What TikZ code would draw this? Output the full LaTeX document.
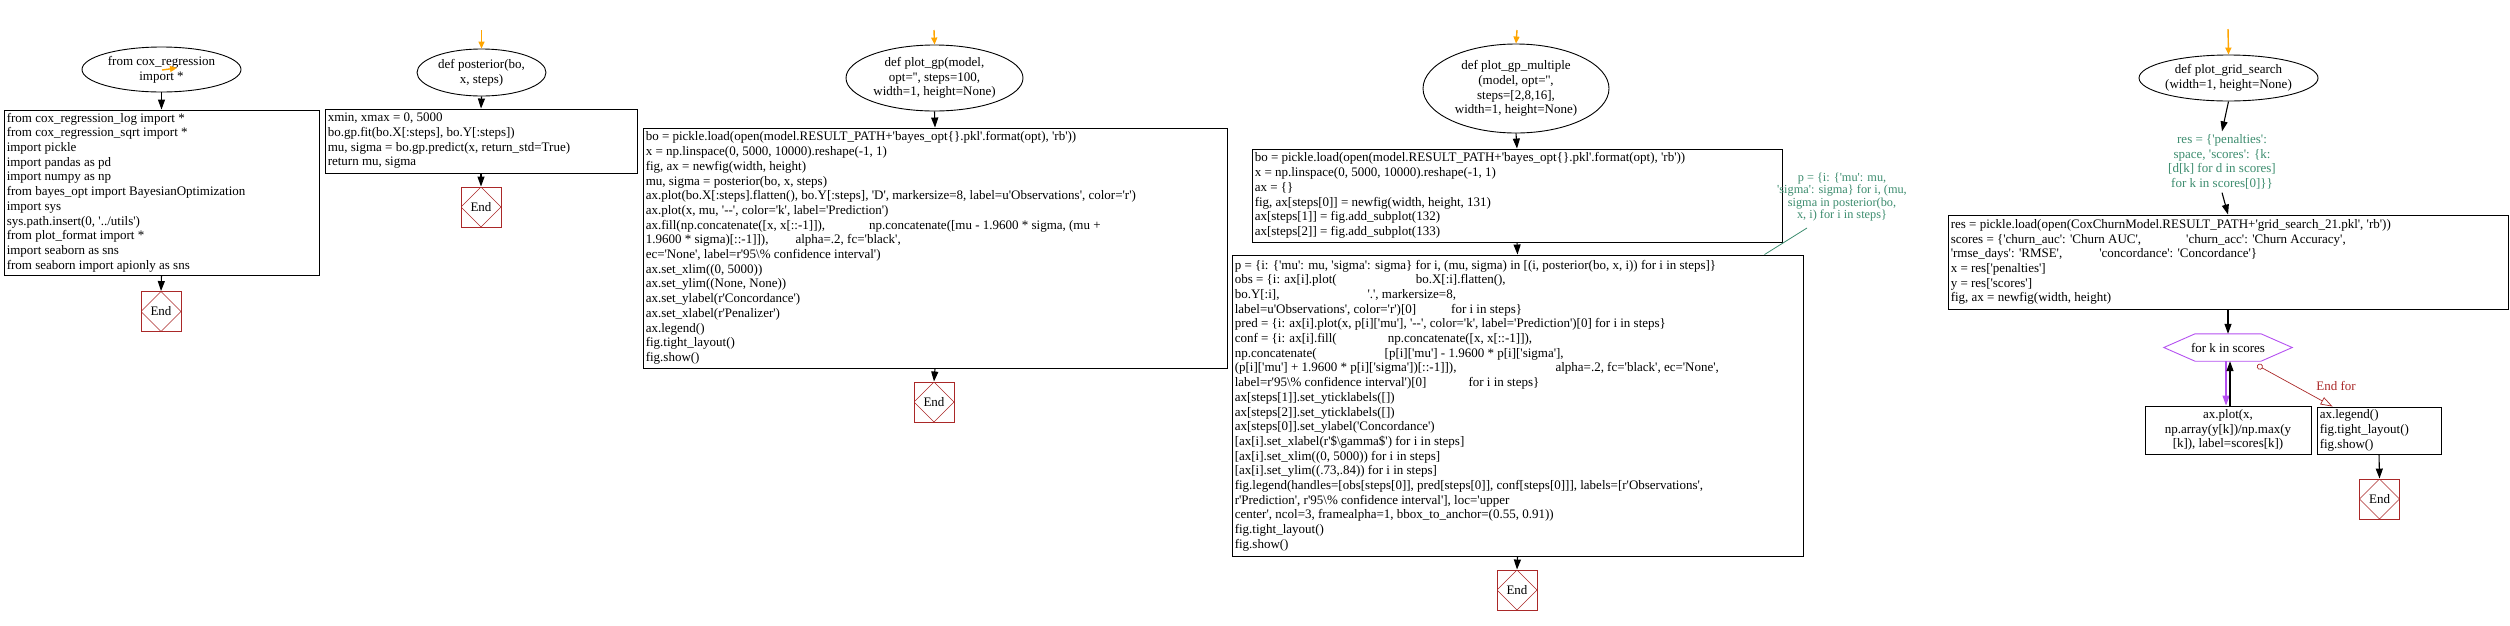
\documentclass[tikz,border=0pt]{standalone}
\usepackage{fontspec}
\setmainfont{Liberation Serif}[Ligatures=TeXOff]
\usetikzlibrary{shapes.geometric,arrows.meta}
\definecolor{endred}{RGB}{170,40,40}
\definecolor{startor}{RGB}{255,165,0}
\definecolor{loopc}{RGB}{180,80,240}
\definecolor{cmtg}{RGB}{60,140,110}
\newcommand\gap[1]{\hspace*{#1pt}}
\begin{document}
\begin{tikzpicture}[x=1pt,y=-1pt,
  every node/.style={font=\fontsize{13}{14.7}\selectfont},
  frame/.style={draw, line width=0.9pt, inner sep=0pt},
  code/.style={anchor=west, align=left, inner sep=0pt},
  func/.style={ellipse, draw, line width=0.9pt, inner sep=0pt, align=center},
  endbox/.style={draw=endred, line width=0.9pt, minimum width=40pt, minimum height=40pt, inner sep=0pt,
    path picture={\draw[endred,line width=0.6pt] (path picture bounding box.west) -- (path picture bounding box.north) -- (path picture bounding box.east) -- (path picture bounding box.south) -- cycle;}},
  flow/.style={line width=1.1pt, -{Triangle[length=10pt,width=7pt]}},
  startarr/.style={draw=startor, line width=1.4pt, -{Triangle[length=7pt,width=6pt]}},
]
\useasboundingbox (0,0) rectangle (2510,625);

% ---------- column 1
\node[func, minimum width=159pt, minimum height=45pt] (e1) at (161.5,69.5) {from cox\_regression\\import *};
\coordinate (s1a) at (162,70);
\coordinate (s1b) at (177,68);
\draw[startarr] (s1a) -- (s1b);
\node[frame, minimum width=315pt, minimum height=165pt] (b1) at (161.5,192.5) {};
\node[code] (t1) at ([xshift=3pt]b1.west) {from cox\_regression\_log import *\\
from cox\_regression\_sqrt import *\\
import pickle\\
import pandas as pd\\
import numpy as np\\
from bayes\_opt import BayesianOptimization\\
import sys\\
sys.path.insert(0, '../utils')\\
from plot\_format import *\\
import seaborn as sns\\
from seaborn import apionly as sns};
\node[endbox] (end1) at (161,311.5) {End};
\draw[flow] (e1.south) -- (b1.north);
\draw[flow] (b1.south) -- (end1.north);

% ---------- column 2
\coordinate (s2) at (481.5,30);
\node[func, minimum width=129pt, minimum height=47pt] (e2) at (481.5,72.5) {def posterior(bo,\\x, steps)};
\node[frame, minimum width=312pt, minimum height=64pt] (b2) at (481,141) {};
\node[code] (t2) at ([xshift=3pt]b2.west) {xmin, xmax = 0, 5000\\
bo.gp.fit(bo.X[:steps], bo.Y[:steps])\\
mu, sigma = bo.gp.predict(x, return\_std=True)\\
return mu, sigma};
\node[endbox] (end2) at (481,207) {End};
\draw[startarr] (s2) -- (e2.north);
\draw[flow] (e2.south) -- (b2.north);
\draw[flow] (b2.south) -- (end2.north);

% ---------- column 3
\coordinate (s3) at (934,30);
\node[func, minimum width=177pt, minimum height=66pt] (e3) at (934.5,78) {def plot\_gp(model,\\opt='', steps=100,\\width=1, height=None)};
\node[frame, minimum width=584pt, minimum height=240pt] (b3) at (935,248) {};
\node[code] (t3) at ([xshift=3pt]b3.west) {bo = pickle.load(open(model.RESULT\_PATH+'bayes\_opt\{\}.pkl'.format(opt), 'rb'))\\
x = np.linspace(0, 5000, 10000).reshape(-1, 1)\\
fig, ax = newfig(width, height)\\
mu, sigma = posterior(bo, x, steps)\\
ax.plot(bo.X[:steps].flatten(), bo.Y[:steps], 'D', markersize=8, label=u'Observations', color='r')\\
ax.plot(x, mu, '--', color='k', label='Prediction')\\
ax.fill(np.concatenate([x, x[::-1]]),\gap{44}np.concatenate([mu - 1.9600 * sigma, (mu +\\
1.9600 * sigma)[::-1]]),\gap{27}alpha=.2, fc='black',\\
ec='None', label=r'95\textbackslash\% confidence interval')\\
ax.set\_xlim((0, 5000))\\
ax.set\_ylim((None, None))\\
ax.set\_ylabel(r'Concordance')\\
ax.set\_xlabel(r'Penalizer')\\
ax.legend()\\
fig.tight\_layout()\\
fig.show()};
\node[endbox] (end3) at (934,402) {End};
\draw[startarr] (s3) -- (e3.north);
\draw[flow] (e3.south) -- (b3.north);
\draw[flow] (b3.south) -- (end3.north);

% ---------- column 4
\coordinate (s4) at (1517,30);
\node[func, minimum width=186pt, minimum height=89pt] (e4) at (1516,88.5) {def plot\_gp\_multiple\\(model, opt='',\\steps=[2,8,16],\\width=1, height=None)};
\node[frame, minimum width=530pt, minimum height=93pt] (b4a) at (1517,195.5) {};
\node[code] (t4a) at ([xshift=3pt]b4a.west) {bo = pickle.load(open(model.RESULT\_PATH+'bayes\_opt\{\}.pkl'.format(opt), 'rb'))\\
x = np.linspace(0, 5000, 10000).reshape(-1, 1)\\
ax = \{\}\\
fig, ax[steps[0]] = newfig(width, height, 131)\\
ax[steps[1]] = fig.add\_subplot(132)\\
ax[steps[2]] = fig.add\_subplot(133)};
\node[frame, minimum width=571pt, minimum height=301pt] (b4b) at (1517.5,405.5) {};
\node[code] (t4b) at ([xshift=3pt]b4b.west) {p = \{i: \{'mu': mu, 'sigma': sigma\} for i, (mu, sigma) in [(i, posterior(bo, x, i)) for i in steps]\}\\
obs = \{i: ax[i].plot(\gap{79}bo.X[:i].flatten(),\\
bo.Y[:i],\gap{88}'.', markersize=8,\\
label=u'Observations', color='r')[0]\gap{35}for i in steps\}\\
pred = \{i: ax[i].plot(x, p[i]['mu'], '--', color='k', label='Prediction')[0] for i in steps\}\\
conf = \{i: ax[i].fill(\gap{51}np.concatenate([x, x[::-1]]),\\
np.concatenate(\gap{68}[p[i]['mu'] - 1.9600 * p[i]['sigma'],\\
(p[i]['mu'] + 1.9600 * p[i]['sigma'])[::-1]]),\gap{99}alpha=.2, fc='black', ec='None',\\
label=r'95\textbackslash\% confidence interval')[0]\gap{42}for i in steps\}\\
ax[steps[1]].set\_yticklabels([])\\
ax[steps[2]].set\_yticklabels([])\\
ax[steps[0]].set\_ylabel('Concordance')\\\relax
[ax[i].set\_xlabel(r'\$\textbackslash gamma\$') for i in steps]\\\relax
[ax[i].set\_xlim((0, 5000)) for i in steps]\\\relax
[ax[i].set\_ylim((.73,.84)) for i in steps]\\
fig.legend(handles=[obs[steps[0]], pred[steps[0]], conf[steps[0]]], labels=[r'Observations',\\
r'Prediction', r'95\textbackslash\% confidence interval'], loc='upper\\
center', ncol=3, framealpha=1, bbox\_to\_anchor=(0.55, 0.91))\\
fig.tight\_layout()\\
fig.show()};
\node[endbox] (end4) at (1517,590) {End};
\node[cmtg, align=center, inner sep=0pt, font=\fontsize{12.3}{12.4}\selectfont] (cmt4) at (1842,197) {p = \{i: \{'mu': mu,\\'sigma': sigma\} for i, (mu,\\sigma in posterior(bo,\\x, i) for i in steps\}};
\coordinate (cmtend) at (1807,228);
\draw[startarr] (s4) -- (e4.north);
\draw[flow] (e4.south) -- (b4a.north);
\draw[flow] (b4a.south) -- (b4b.north);
\draw[flow] (b4b.south) -- (end4.north);
\draw[cmtg, line width=0.8pt] ([xshift=-39pt]b4b.north east) -- (cmtend);

% ---------- column 5
\coordinate (s5) at (2228,29);
\node[func, minimum width=177pt, minimum height=46pt] (e5) at (2228.5,78) {def plot\_grid\_search\\(width=1, height=None)};
\node[cmtg, align=center, inner sep=3pt] (g5) at (2222,162) {res = \{'penalties':\\space, 'scores': \{k:\\\relax [d[k] for d in scores]\\for k in scores[0]\}\}};
\node[frame, minimum width=560pt, minimum height=94pt] (b5) at (2228,262) {};
\node[code] (t5) at ([xshift=3pt]b5.west) {res = pickle.load(open(CoxChurnModel.RESULT\_PATH+'grid\_search\_21.pkl', 'rb'))\\
scores = \{'churn\_auc': 'Churn AUC',\gap{45}'churn\_acc': 'Churn Accuracy',\\
'rmse\_days': 'RMSE',\gap{37}'concordance': 'Concordance'\}\\
x = res['penalties']\\
y = res['scores']\\
fig, ax = newfig(width, height)};
\node[minimum width=128pt, minimum height=27pt, inner sep=0pt] (hex) at (2228,347.5) {for k in scores};
\draw[loopc, line width=0.9pt] (hex.west) -- ([xshift=-33pt]hex.north) -- ([xshift=33pt]hex.north) -- (hex.east) -- ([xshift=33pt]hex.south) -- ([xshift=-33pt]hex.south) -- cycle;
\node[frame, minimum width=166pt, minimum height=48pt, align=center] (body) at (2228,430) {ax.plot(x,\\np.array(y[k])/np.max(y\\\relax [k]), label=scores[k])};
\node[frame, minimum width=124pt, minimum height=47pt] (endfor) at (2379,430.5) {};
\node[code] (tef) at ([xshift=3pt]endfor.west) {ax.legend()\\fig.tight\_layout()\\fig.show()};
\node[endbox] (end5) at (2379.5,499) {End};
\node[endred] (eflabel) at (2336,386) {End for};
\draw[startarr] (s5) -- (e5.north);
\draw[flow] (e5.south) -- (g5.north);
\draw[flow] (g5.south) -- (b5.north);
\draw[flow] (b5.south) -- (hex.north);
\draw[flow, draw=loopc, fill=loopc] ([xshift=-2pt]hex.south) -- ([xshift=-2pt]body.north);
\draw[flow] ([xshift=2pt]body.north) -- ([xshift=2pt]hex.south);
\draw[endred, line width=0.7pt, {Circle[open,length=6pt]}-{Triangle[open,length=12pt,width=8pt]}] ([xshift=-35pt,yshift=-4pt]hex.south east) -- ([xshift=16pt]endfor.north west);
\draw[flow] (endfor.south) -- (end5.north);
\end{tikzpicture}
\end{document}
